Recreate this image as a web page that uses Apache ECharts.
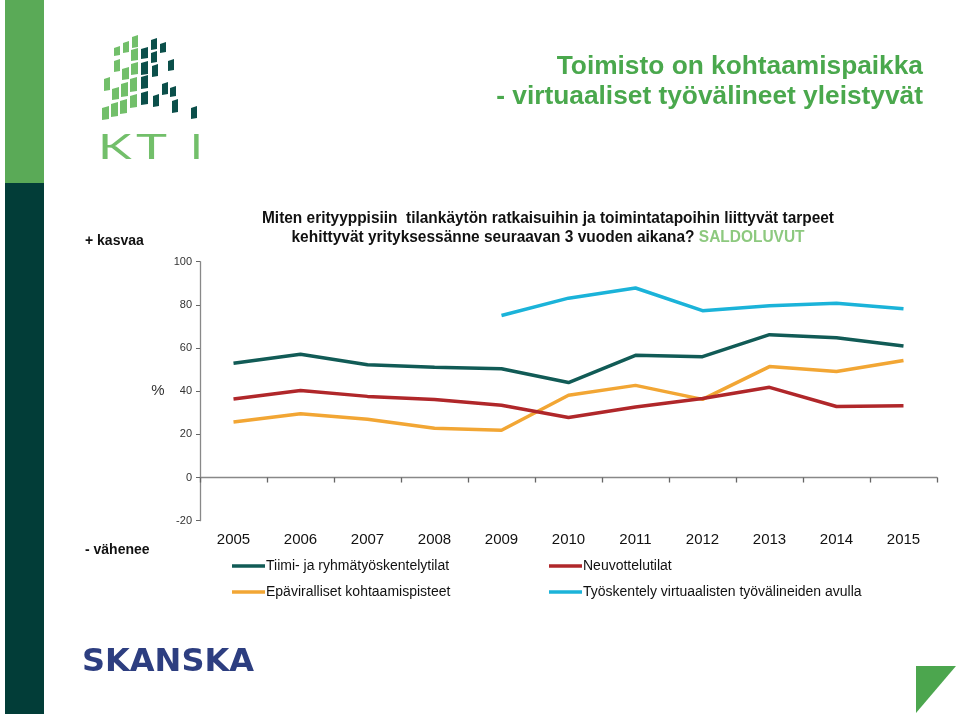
<!DOCTYPE html>
<html>
<head>
<meta charset="utf-8">
<script src="https://cdn.jsdelivr.net/npm/echarts@6/dist/echarts.min.js"></script>
<style>
html,body{margin:0;padding:0;background:#fff;}
#chart{width:960px;height:716px;}
</style>
</head>
<body>
<div id="chart"></div>
<script>
// ---- data ----
var years = ['2005','2006','2007','2008','2009','2010','2011','2012','2013','2014','2015'];
var seriesNames = ['Tiimi- ja ryhmätyöskentelytilat','Neuvottelutilat','Epäviralliset kohtaamispisteet','Työskentely virtuaalisten työvälineiden avulla'];
var tiimi = [52.9, 57.1, 52.3, 51.1, 50.4, 44.0, 56.6, 56.0, 66.2, 64.8, 60.9];
var neuvottelu = [36.4, 40.3, 37.6, 36.1, 33.5, 27.8, 32.7, 36.6, 41.8, 32.9, 33.3];
var epaviralliset = [25.7, 29.6, 27.0, 22.8, 21.9, 38.1, 42.7, 36.2, 51.4, 49.1, 54.2];
var virtuaali = [null, null, null, null, 75.1, 83.1, 87.8, 77.3, 79.6, 80.8, 78.2];
var yTicks = [-20, 0, 20, 40, 60, 80, 100];
var titleLine1 = 'Toimisto on kohtaamispaikka';
var titleLine2 = '- virtuaaliset työvälineet yleistyvät';
var question1 = 'Miten erityyppisiin  tilankäytön ratkaisuihin ja toimintatapoihin liittyvät tarpeet';
var question2 = 'kehittyvät yrityksessänne seuraavan 3 vuoden aikana? ';
var saldo = 'SALDOLUVUT';

var colors = ['#115b56', '#b0272a', '#f2a634', '#1bb3d9'];

// logo squares [x, y, w, h, dark?]
var logoSquares = [
 [102,106,7,14,0],[104,77,6,14,0],
 [111,102,7,15,0],[112,87,7,13,0],[114,59,6,13,0],[114,46,6,10,0],
 [120,99,7,15,0],[121,82,7,15,0],[122,67,7,13,0],[123,41,6,12,0],
 [130,94,7,14,0],[130,77,7,15,0],[131,62,7,13,0],[131,48,7,13,0],[132,35,6,13,0],
 [141,91,7,14,1],[141,75,7,14,1],[141,61,7,14,1],[141,47,7,12,1],
 [151,38,6,12,1],[151,51,6,12,1],[152,64,6,13,1],[153,94,6,13,1],
 [160,42,6,11,1],[162,82,6,13,1],
 [168,59,6,12,1],[170,86,6,11,1],[172,99,6,14,1],
 [191,106,6,13,1]
];

var graphics = [];
// left bars
graphics.push({type:'rect', shape:{x:5,y:0,width:39,height:183}, style:{fill:'#5aaa57'}, silent:true});
graphics.push({type:'rect', shape:{x:5,y:183,width:39,height:531}, style:{fill:'#023d38'}, silent:true});
logoSquares.forEach(function(s){
  graphics.push({type:'polygon', shape:{points:[[s[0],s[1]+2],[s[0]+s[2],s[1]],[s[0]+s[2],s[1]+s[3]-1],[s[0],s[1]+s[3]]]}, style:{fill: s[4] ? '#0b4f4a' : '#72bf6a'}, silent:true});
});
// KTI letters
graphics.push({type:'text', x:98, y:130, scaleX:1.45, style:{text:'K', fill:'#72bf6a', font:'normal 35px Lato', textVerticalAlign:'top'}, silent:true});
graphics.push({type:'text', x:136, y:130, scaleX:1.5, style:{text:'T', fill:'#72bf6a', font:'normal 35px Lato', textVerticalAlign:'top'}, silent:true});
graphics.push({type:'text', x:190, y:130, scaleX:1.3, style:{text:'I', fill:'#72bf6a', font:'normal 35px Lato', textVerticalAlign:'top'}, silent:true});

// measure helper for condensed question text
var mc = document.createElement('canvas').getContext('2d');
function fitScale(font, text, target){ mc.font = font; return target / mc.measureText(text).width; }
var qFont = 'bold 16px "Liberation Sans", Arial';
var q1s = fitScale(qFont, question1, 572);
var q2s = fitScale(qFont, question2 + saldo, 513);

// titles
graphics.push({type:'text', x:923, y:67, style:{text:titleLine1, fill:'#4aa84d', font:'bold 26.3px "Liberation Sans", Arial', textAlign:'right', textVerticalAlign:'middle'}, silent:true});
graphics.push({type:'text', x:923, y:97, style:{text:titleLine2, fill:'#4aa84d', font:'bold 26.3px "Liberation Sans", Arial', textAlign:'right', textVerticalAlign:'middle'}, silent:true});
// question
graphics.push({type:'text', x:548, y:219, scaleX:q1s, style:{text:question1, fill:'#111', font:qFont, textAlign:'center', textVerticalAlign:'middle'}, silent:true});
graphics.push({type:'text', x:548, y:238, scaleX:q2s, style:{
  text:'{a|' + question2 + '}{b|' + saldo + '}',
  textAlign:'center', textVerticalAlign:'middle',
  rich:{a:{fill:'#111', font:qFont}, b:{fill:'#8dc97f', font:qFont}}
}, silent:true});
// side labels
graphics.push({type:'text', x:85, y:241, style:{text:'+ kasvaa', fill:'#111', font:'bold 14px "Liberation Sans", Arial', textVerticalAlign:'middle'}, silent:true});
graphics.push({type:'text', x:85, y:550, style:{text:'- vähenee', fill:'#111', font:'bold 14px "Liberation Sans", Arial', textVerticalAlign:'middle'}, silent:true});
graphics.push({type:'text', x:158, y:391, style:{text:'%', fill:'#333', font:'15px "Liberation Sans", Arial', textAlign:'center', textVerticalAlign:'middle'}, silent:true});
// Skanska
graphics.push({type:'text', x:82, y:663, style:{text:'SKANSKA', fill:'#2d3e80', font:'bold 32px "DejaVu Sans", Verdana', textVerticalAlign:'middle'}, silent:true});
// triangle
graphics.push({type:'polygon', shape:{points:[[916,666],[956,666],[916,713]]}, style:{fill:'#4ca64e'}, silent:true});

function mkSeries(i, data){
  return {
    name: seriesNames[i], type:'line', data:data, symbol:'none', smooth:false,
    connectNulls:false, lineStyle:{color:colors[i], width:3.5}, itemStyle:{color:colors[i]}, z: 10 - i
  };
}

var legendPos = [[232,559],[549,559],[232,585],[549,585]];
var legends = seriesNames.map(function(n, i){
  return {data:[n], left:legendPos[i][0], top:legendPos[i][1], padding:0, icon:'rect', itemWidth:33, itemHeight:3.5, itemGap:2,
    textStyle:{color:'#111', fontSize:14, fontFamily:'"Liberation Sans", Arial', padding:[0,0,0,-4]}, selectedMode:false};
});

var chart = echarts.init(document.getElementById('chart'), null, {renderer:'canvas'});
chart.setOption({
  backgroundColor:'#ffffff',
  animation:false,
  grid:{left:200, right:23, top:261.7, bottom:195.3, containLabel:false},
  legend: legends,
  xAxis:[
    {type:'category', data:years, boundaryGap:true,
     axisLine:{onZero:true, lineStyle:{color:'#888', width:1.3}},
     axisTick:{show:true, length:5, lineStyle:{color:'#666', width:1.3}},
     axisLabel:{show:false}, splitLine:{show:false}},
    {type:'category', data:years, boundaryGap:true, position:'bottom',
     axisLine:{show:false, onZero:false}, axisTick:{show:false},
     axisLabel:{show:true, color:'#111', fontSize:15, fontFamily:'"Liberation Sans", Arial', margin:12}}
  ],
  yAxis:{type:'value', min:yTicks[0], max:yTicks[yTicks.length-1], interval:20,
    axisLine:{show:true, lineStyle:{color:'#888', width:1.3}},
    axisTick:{show:true, length:4, lineStyle:{color:'#666'}},
    axisLabel:{color:'#333', fontSize:11, fontFamily:'"Liberation Sans", Arial', margin:8},
    splitLine:{show:false}},
  series:[mkSeries(0, tiimi), mkSeries(1, neuvottelu), mkSeries(2, epaviralliset), mkSeries(3, virtuaali)],
  graphic: graphics
});
</script>
</body>
</html>
